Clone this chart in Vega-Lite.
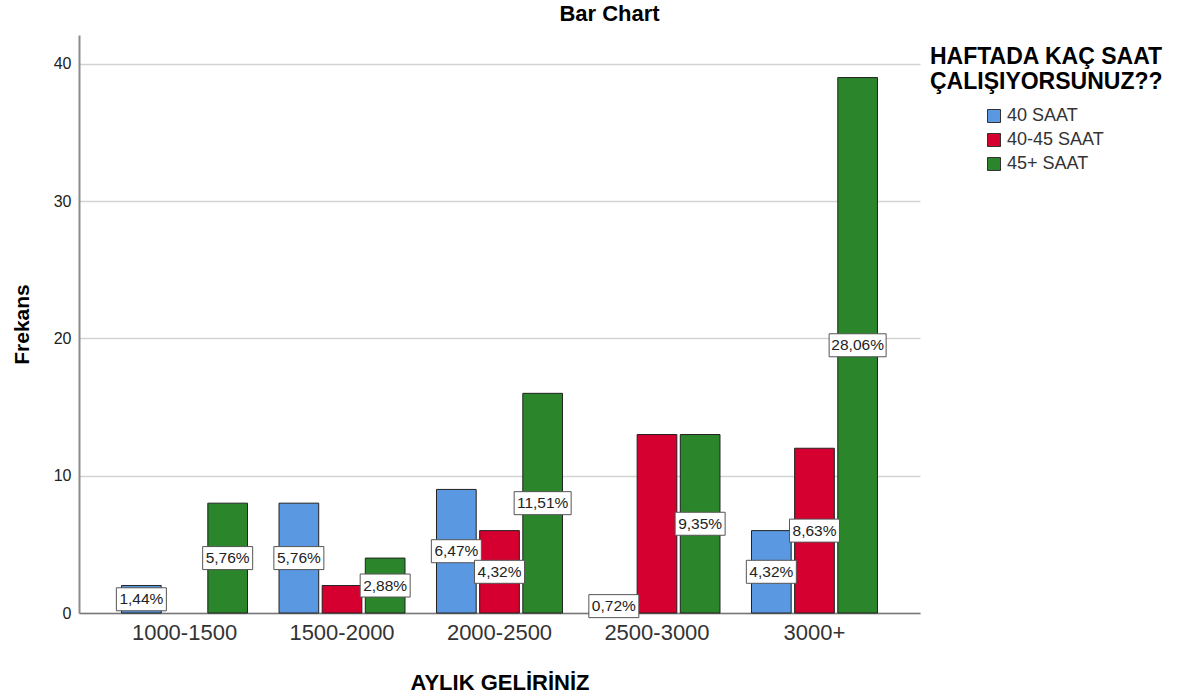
{
  "$schema": "https://vega.github.io/schema/vega-lite/v6.json",
  "width": 841,
  "height": 578,
  "autosize": {"type": "none"},
  "padding": {"left": 79, "top": 35, "right": 271, "bottom": 84},
  "background": "white",
  "config": {
    "font": "Liberation Sans",
    "view": {"stroke": null}
  },
  "title": {
    "text": "Bar Chart",
    "anchor": "middle",
    "frame": "group",
    "dx": 110,
    "offset": 9,
    "fontSize": 22,
    "font": "Liberation Sans",
    "fontWeight": "bold",
    "color": "#000"
  },
  "data": {
    "values": [
      {"income": "1000-1500", "hours": "40 SAAT", "count": 2, "pct": "1,44%"},
      {"income": "1000-1500", "hours": "45+ SAAT", "count": 8, "pct": "5,76%"},
      {"income": "1500-2000", "hours": "40 SAAT", "count": 8, "pct": "5,76%"},
      {"income": "1500-2000", "hours": "40-45 SAAT", "count": 2, "pct": ""},
      {"income": "1500-2000", "hours": "45+ SAAT", "count": 4, "pct": "2,88%"},
      {"income": "2000-2500", "hours": "40 SAAT", "count": 9, "pct": "6,47%"},
      {"income": "2000-2500", "hours": "40-45 SAAT", "count": 6, "pct": "4,32%"},
      {"income": "2000-2500", "hours": "45+ SAAT", "count": 16, "pct": "11,51%"},
      {"income": "2500-3000", "hours": "40 SAAT", "count": 1, "pct": "0,72%"},
      {"income": "2500-3000", "hours": "40-45 SAAT", "count": 13, "pct": ""},
      {"income": "2500-3000", "hours": "45+ SAAT", "count": 13, "pct": "9,35%"},
      {"income": "3000+", "hours": "40 SAAT", "count": 6, "pct": "4,32%"},
      {"income": "3000+", "hours": "40-45 SAAT", "count": 12, "pct": "8,63%"},
      {"income": "3000+", "hours": "45+ SAAT", "count": 39, "pct": "28,06%"}
    ]
  },
  "encoding": {
    "x": {
      "field": "income",
      "type": "nominal",
      "sort": ["1000-1500", "1500-2000", "2000-2500", "2500-3000", "3000+"],
      "scale": {"paddingInner": 0.2, "paddingOuter": 0.27},
      "axis": {
        "title": "AYLIK GELİRİNİZ",
        "titleFontSize": 22,
        "titleFontWeight": "bold",
        "titleColor": "#000",
        "titlePadding": 29,
        "labelFontSize": 22,
        "labelColor": "#333",
        "labelPadding": 9,
        "labelAngle": 0,
        "ticks": false,
        "domainColor": "#777",
        "domainWidth": 1.5
      }
    },
    "xOffset": {
      "field": "hours",
      "type": "nominal",
      "sort": ["40 SAAT", "40-45 SAAT", "45+ SAAT"],
      "scale": {"paddingInner": 0.08}
    }
  },
  "layer": [
    {
      "mark": {"type": "bar", "stroke": "#222", "strokeWidth": 1},
      "encoding": {
        "y": {
          "field": "count",
          "type": "quantitative",
          "scale": {"domain": [0, 42.1], "nice": false},
          "axis": {
            "title": "Frekans",
            "titleFontSize": 21,
            "titleFontWeight": "bold",
            "titleColor": "#000",
            "titlePadding": 21,
            "values": [0, 10, 20, 30, 40],
            "labelFontSize": 16,
            "labelColor": "#222",
            "labelPadding": 8,
            "ticks": false,
            "domainColor": "#8c8c8c",
            "domainWidth": 2,
            "grid": true,
            "gridColor": "#d3d3d3",
            "gridWidth": 1.5
          }
        },
        "color": {
          "field": "hours",
          "type": "nominal",
          "sort": ["40 SAAT", "40-45 SAAT", "45+ SAAT"],
          "scale": {"domain": ["40 SAAT", "40-45 SAAT", "45+ SAAT"], "range": ["#5a98e2", "#d5002f", "#2b852b"]},
          "legend": {
            "orient": "none",
            "legendX": 851,
            "legendY": 11,
            "title": ["HAFTADA KAÇ SAAT", "ÇALIŞIYORSUNUZ??"],
            "titleLimit": 400,
            "titleFontSize": 23,
            "titleFontWeight": "bold",
            "titleColor": "#000",
            "titleLineHeight": 25,
            "titlePadding": 13,
            "labelFontSize": 18,
            "labelColor": "#333",
            "labelOffset": 4,
            "labelLimit": 300,
            "symbolOffset": 55,
            "symbolType": "square",
            "symbolSize": 169,
            "symbolStrokeColor": "#333",
            "symbolStrokeWidth": 1,
            "symbolOpacity": 1,
            "rowPadding": 6
          }
        }
      }
    },
    {
      "transform": [{"filter": "datum.pct != ''"}],
      "encoding": {
        "y": {
          "field": "count",
          "type": "quantitative",
          "scale": {"domain": [0, 84.2], "nice": false},
          "axis": null
        }
      },
      "layer": [
        {
          "transform": [{"filter": "length(datum.pct) == 5"}],
          "mark": {
            "type": "point",
            "shape": "M-1,-0.46L1,-0.46L1,0.46L-1,0.46Z",
            "size": 2500,
            "filled": true,
            "fill": "white",
            "fillOpacity": 1,
            "stroke": "#555",
            "strokeWidth": 1,
            "opacity": 1
          }
        },
        {
          "transform": [{"filter": "length(datum.pct) == 6"}],
          "mark": {
            "type": "point",
            "shape": "M-1,-0.4035L1,-0.4035L1,0.4035L-1,0.4035Z",
            "size": 3249,
            "filled": true,
            "fill": "white",
            "fillOpacity": 1,
            "stroke": "#555",
            "strokeWidth": 1,
            "opacity": 1
          }
        },
        {
          "mark": {"type": "text", "fontSize": 15.5, "color": "#222", "baseline": "middle", "align": "center"},
          "encoding": {"text": {"field": "pct"}}
        }
      ]
    }
  ],
  "resolve": {"scale": {"y": "independent"}}
}
